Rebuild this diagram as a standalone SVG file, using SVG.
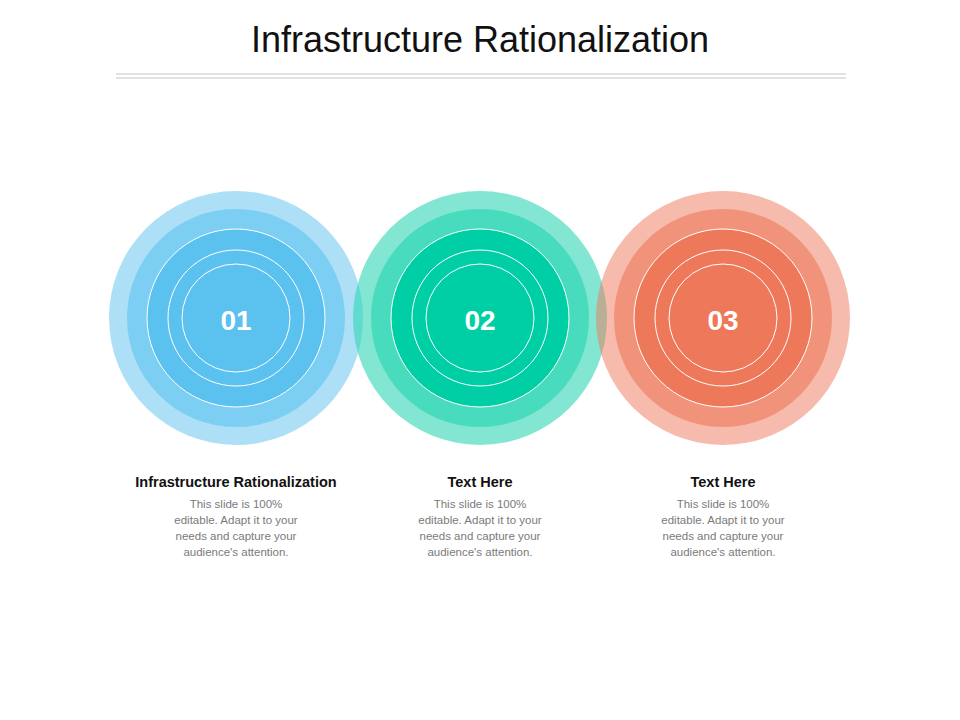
<svg xmlns="http://www.w3.org/2000/svg" width="960" height="720" viewBox="0 0 960 720">
<style>
.t{font-family:"Liberation Sans",Arial,sans-serif;text-anchor:middle}
.h{font-size:14.5px;font-weight:bold;fill:#111}
.b{font-size:11.5px;fill:#7a7a7a}
.n{font-size:28px;font-weight:bold;fill:#fff}
.w{fill:none;stroke:#fff;stroke-width:1}
</style>
<rect width="960" height="720" fill="#fff"/>
<text class="t" x="480" y="52" font-size="36" fill="#111" style="font-family:'Liberation Sans Narrow','Liberation Sans',sans-serif">Infrastructure Rationalization</text>
<line x1="116" y1="74" x2="846" y2="74" stroke="#d9d9d9" stroke-width="1.5"/>
<line x1="116" y1="78" x2="846" y2="78" stroke="#d9d9d9" stroke-width="1.5"/>
<g id="node1">
<circle cx="236" cy="318" r="127" fill="#5bc1ef" fill-opacity="0.5"/>
<circle cx="236" cy="318" r="109" fill="#5bc1ef" fill-opacity="0.6"/>
<circle cx="236" cy="318" r="89" fill="#5bc1ef"/>
<circle class="w" cx="236" cy="318" r="89"/>
<circle class="w" cx="236" cy="318" r="68"/>
<circle class="w" cx="236" cy="318" r="54"/>
<text class="t n" x="236" y="330">01</text>
<text class="t h" x="236" y="487">Infrastructure Rationalization</text>
<text class="t b" x="236" y="508">This slide is 100%</text>
<text class="t b" x="236" y="524">editable. Adapt it to your</text>
<text class="t b" x="236" y="540">needs and capture your</text>
<text class="t b" x="236" y="556">audience's attention.</text>
</g>
<g id="node2">
<circle cx="480" cy="318" r="127" fill="#2fd6b4" fill-opacity="0.6"/>
<circle cx="480" cy="318" r="109" fill="#2fd6b4" fill-opacity="0.7"/>
<circle cx="480" cy="318" r="89" fill="#00cfa6"/>
<circle class="w" cx="480" cy="318" r="89"/>
<circle class="w" cx="480" cy="318" r="68"/>
<circle class="w" cx="480" cy="318" r="54"/>
<text class="t n" x="480" y="330">02</text>
<text class="t h" x="480" y="487">Text Here</text>
<text class="t b" x="480" y="508">This slide is 100%</text>
<text class="t b" x="480" y="524">editable. Adapt it to your</text>
<text class="t b" x="480" y="540">needs and capture your</text>
<text class="t b" x="480" y="556">audience's attention.</text>
</g>
<g id="node3">
<circle cx="723" cy="318" r="127" fill="#ee785a" fill-opacity="0.5"/>
<circle cx="723" cy="318" r="109" fill="#ee785a" fill-opacity="0.6"/>
<circle cx="723" cy="318" r="89" fill="#ee785a"/>
<circle class="w" cx="723" cy="318" r="89"/>
<circle class="w" cx="723" cy="318" r="68"/>
<circle class="w" cx="723" cy="318" r="54"/>
<text class="t n" x="723" y="330">03</text>
<text class="t h" x="723" y="487">Text Here</text>
<text class="t b" x="723" y="508">This slide is 100%</text>
<text class="t b" x="723" y="524">editable. Adapt it to your</text>
<text class="t b" x="723" y="540">needs and capture your</text>
<text class="t b" x="723" y="556">audience's attention.</text>
</g>
<g id="connectors"/>
</svg>
